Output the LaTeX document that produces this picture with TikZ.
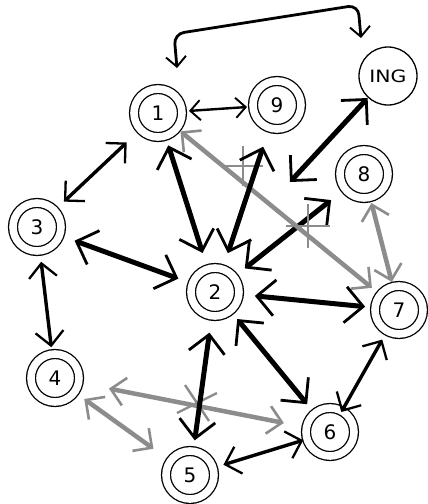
\documentclass[tikz,border=0pt]{standalone}
\usepackage{fontspec}
\setmainfont{DejaVu Sans}
\usetikzlibrary{arrows.meta,calc}

\begin{document}
\begin{tikzpicture}[x=1pt,y=-1pt,
    state/.style={circle,draw,line width=1.3pt,double,double distance=7.6pt,
      minimum size=48pt,inner sep=0pt,outer sep=0pt,font=\fontsize{20}{22}\selectfont},
    goal/.style={circle,draw,line width=1.3pt,minimum size=58pt,inner sep=0pt,
      outer sep=0pt,font=\fontsize{17}{19}\selectfont},
    heavy/.style={line width=5pt,
      {Straight Barb[length=18pt,width=36pt,line width=2.8pt]}-{Straight Barb[length=18pt,width=36pt,line width=2.8pt]}},
    medium/.style={line width=3.4pt,
      {Straight Barb[length=14pt,width=28pt,line width=2.3pt]}-{Straight Barb[length=14pt,width=28pt,line width=2.3pt]}},
    light/.style={line width=2.4pt,
      {Straight Barb[length=10pt,width=20pt,line width=1.9pt]}-{Straight Barb[length=10pt,width=20pt,line width=1.9pt]}},
    faded/.style={line width=4.5pt,black!45,
      {Straight Barb[length=14pt,width=28pt,line width=2.6pt]}-{Straight Barb[length=14pt,width=28pt,line width=2.6pt]}},
    crossmark/.style={line width=2.4pt,black!45}]
  \useasboundingbox (0,0) rectangle (428,504);

  % states
  \node[state] (n1) at (158,113) {1};
  \node[state] (n9) at (277,105) {9};
  \node[goal]  (ing) at (388,76) {\scalebox{1.2}[1]{ING}};
  \node[state] (n8) at (364,174) {8};
  \node[state] (n3) at (37,227) {3};
  \node[state] (n2) at (215,292) {2};
  \node[state] (n7) at (399,310) {7};
  \node[state] (n4) at (55,378) {4};
  \node[state] (n6) at (330,432) {6};
  \node[state] (n5) at (190,475) {5};
  \coordinate (ingend) at (290,182);

  % loop over the top: 1 <-> ING
  \draw[light,line width=2.8pt,rounded corners=10pt]
    ($(n1)+(19,-45)$) -- ($(n1)+(16,-79)$) -- ($(ing)+(-30,-71)$) -- ($(ing)+(-27,-38)$);

  % grey links underneath
  \draw[faded,shorten <=31pt,shorten >=23pt] (n4) -- (n6);
  \draw[crossmark] (197,403) +(-12,-18) -- +(12,18) +(-20,10) -- +(20,-10);
  \draw[faded,shorten <=12pt,shorten >=21pt] (n4) -- (n5);
  \draw[faded,shorten <=6pt,shorten >=5pt] (n8) -- (n7);

  % black links
  \draw[light,shorten <=7pt,shorten >=6pt] (n1) -- (n9);
  \draw[medium,shorten <=13pt,shorten >=19pt] (n3) -- (n1);
  \draw[medium,shorten <=11pt,shorten >=7pt] (n3) -- (n4);
  \draw[heavy,shorten <=16pt,shorten >=15pt] (n3) -- (n2);
  \draw[heavy,shorten <=10pt,shorten >=17pt] (n1) -- (n2);
  \draw[heavy,shorten <=14pt,shorten >=18pt] (n2) -- (n8);
  \draw[faded,shorten <=5pt,shorten >=11pt] (n1) -- (n7);
  \draw[crossmark] (243,166) +(-20,0) -- +(20,0) +(0,-20) -- +(0,20);
  \draw[crossmark] (308,226) +(-22,0) -- +(22,0) +(0,-22) -- +(0,22);
  \draw[heavy,shorten <=17pt,shorten >=20pt] (n2) -- (n9);
  \draw[heavy,shorten <=1pt] (ing) -- (ingend);
  \draw[heavy,shorten <=16pt,shorten >=10pt] (n2) -- (n7);
  \draw[heavy,shorten <=11pt,shorten >=12pt] (n2) -- (n6);
  \draw[heavy,shorten <=17pt,shorten >=11pt] (n2) -- (n5);
  \draw[medium,shorten <=10pt,shorten >=-1pt] (n7) -- (n6);
  \draw[medium,shorten <=11pt,shorten >=4pt] (n5) -- (n6);
\end{tikzpicture}
\end{document}
